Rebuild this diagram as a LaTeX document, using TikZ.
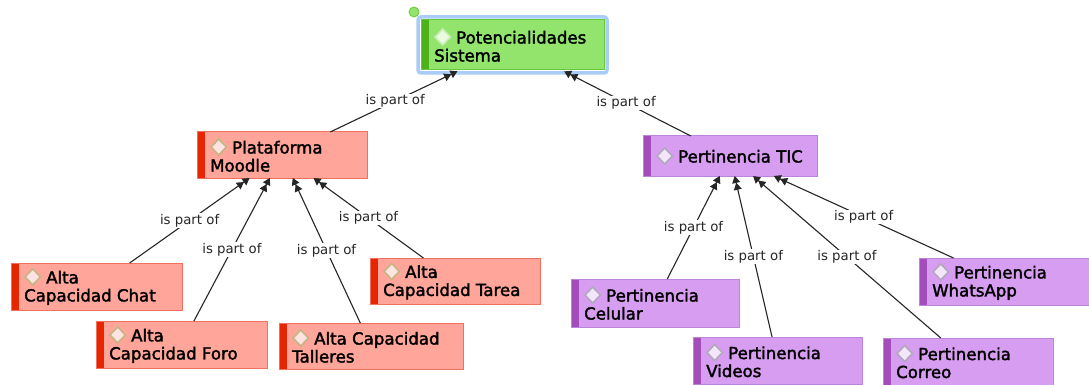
\documentclass[tikz,border=0pt]{standalone}
\usepackage{fontspec}
\usetikzlibrary{arrows.meta}
\newfontfamily\nf[FakeBold=2]{DejaVu Sans}
\newfontfamily\lf{DejaVu Sans}
\definecolor{redfill}{HTML}{FFA59A}
\definecolor{redline}{HTML}{F2705F}
\definecolor{redstripe}{HTML}{E52600}
\definecolor{reddfill}{HTML}{FDE4E0}
\definecolor{reddline}{HTML}{C4B583}
\definecolor{purplefill}{HTML}{D79DF1}
\definecolor{purpleline}{HTML}{BD85DA}
\definecolor{purplestripe}{HTML}{A24DB9}
\definecolor{purpledfill}{HTML}{F3E6FB}
\definecolor{purpledline}{HTML}{B3A8BC}
\definecolor{greenfill}{HTML}{92E46C}
\definecolor{greenline}{HTML}{66C83A}
\definecolor{greenstripe}{HTML}{4DB21A}
\definecolor{greendfill}{HTML}{EAFBE2}
\definecolor{greendline}{HTML}{C8EEB6}
\definecolor{hilite}{HTML}{A9CDF6}
\definecolor{edgecol}{HTML}{262626}
\newcommand\dmd[2]{\tikz[baseline=0pt]\path[draw=#2,fill=#1,line width=1.6pt](0.8pt,6.5pt)--(8.5pt,14.5pt)--(16.2pt,6.5pt)--(8.5pt,-1.5pt)--cycle;\hspace{5pt}}
\tikzset{
  cbox/.style={rectangle, anchor=north west, inner sep=0pt, outer sep=0pt, line width=1pt},
  redbox/.style={cbox, fill=redfill, draw=redline},
  purplebox/.style={cbox, fill=purplefill, draw=purpleline},
  greenbox/.style={cbox, fill=greenfill, draw=greenline},
  txt/.style={anchor=west, align=left, inner sep=0pt, font=\nf\fontsize{16.6}{18}\selectfont, text=black},
  rel/.style={draw=edgecol, line width=1.1pt, -{Triangle[length=7pt,width=8pt] Triangle[length=7pt,width=8pt]}},
  lab/.style={midway, font=\lf\fontsize{13.3}{15}\selectfont, fill=white, inner sep=0.8pt, text=black!85}
}
\newcommand\mkbox[7]{%
  \node[#2box, minimum width=#5pt, minimum height=#6pt] (#1) at (#3,#4) {};
  \fill[#2stripe] (#1.north west) rectangle ([xshift=8pt]#1.south west);
  \draw[#2line, line width=1pt] (#1.north west) rectangle (#1.south east);
  \node[txt] (#1-t) at ([xshift=13pt]#1.west) {\dmd{#2dfill}{#2dline}#7};
}
\begin{document}
\begin{tikzpicture}[x=1pt,y=-1pt]
\useasboundingbox[fill=white] (0,0) rectangle (1089,385);
% highlight around the selected concept
\draw[hilite, line width=3.5pt, rounded corners=3pt] (418,17) rectangle (607,73);
\mkbox{pot}{green}{421}{20}{183}{50}{Potencialidades\\Sistema}
\node[circle, minimum size=10pt, inner sep=0pt, fill=greenfill, draw=greenline, line width=0.8pt] (sel) at (414,12) {};
\mkbox{moodle}{red}{197}{132}{170}{46}{Plataforma\\Moodle}
\mkbox{chat}{red}{11}{263}{171}{47}{Alta\\Capacidad Chat}
\mkbox{foro}{red}{96}{321}{171}{47}{Alta\\Capacidad Foro}
\mkbox{talleres}{red}{279}{323}{184}{46}{Alta Capacidad\\Talleres}
\mkbox{tarea}{red}{370}{258}{170}{46}{Alta\\Capacidad Tarea}
\mkbox{tic}{purple}{643}{136}{174}{40}{Pertinencia TIC}
\mkbox{celular}{purple}{571}{279}{168}{48}{Pertinencia\\Celular}
\mkbox{videos}{purple}{693}{337}{169}{47}{Pertinencia\\Videos}
\mkbox{correo}{purple}{883}{338}{170}{47}{Pertinencia\\Correo}
\mkbox{whatsapp}{purple}{919}{258}{172}{47}{Pertinencia\\WhatsApp}
% connectors
\draw[rel, shorten >=3pt] (moodle) -- (pot) node[lab]{is part of};
\draw[rel, shorten >=3pt] (tic) -- (pot) node[lab]{is part of};
\draw[rel] (chat) -- (moodle) node[lab]{is part of};
\draw[rel] (foro) -- (moodle) node[lab]{is part of};
\draw[rel] (talleres) -- (moodle) node[lab]{is part of};
\draw[rel] (tarea) -- (moodle) node[lab]{is part of};
\draw[rel] (celular) -- (tic) node[lab]{is part of};
\draw[rel] (videos) -- (tic) node[lab]{is part of};
\draw[rel] (correo) -- (tic) node[lab]{is part of};
\draw[rel] (whatsapp) -- (tic) node[lab]{is part of};
\end{tikzpicture}
\end{document}
